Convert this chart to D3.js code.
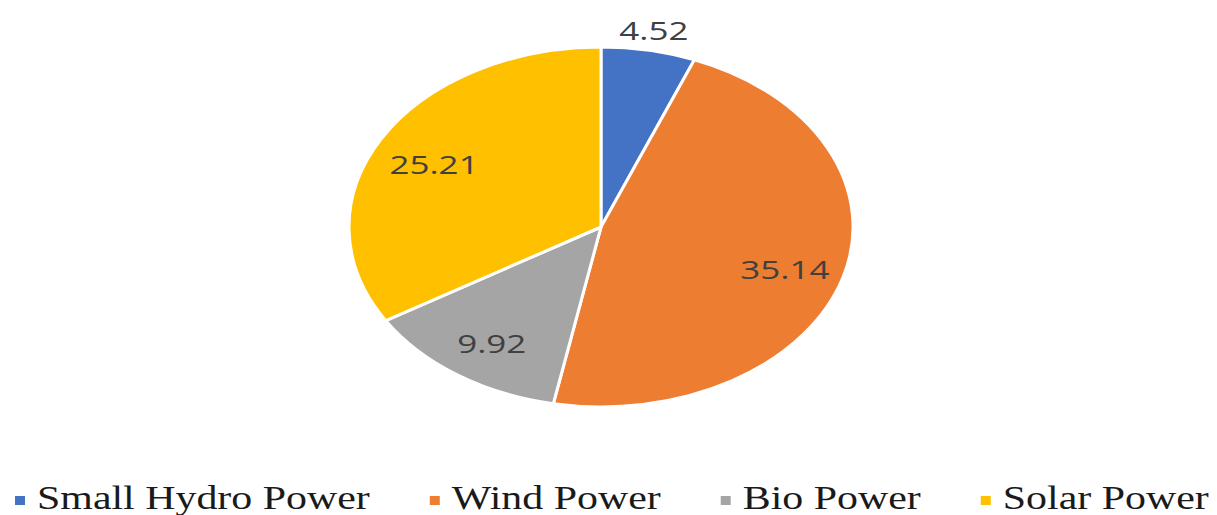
<!DOCTYPE html>
<html>
<head>
<meta charset="utf-8">
<script src="https://cdn.jsdelivr.net/npm/d3@7"></script>
<style>
  html, body { margin: 0; padding: 0; background: #fff; }
  svg { display: block; }
</style>
</head>
<body>
<svg id="chart" width="1217" height="515"></svg>
<script>
// Installed renewable capacity by source
const categories = ["Small Hydro Power", "Wind Power", "Bio Power", "Solar Power"];
const values = [4.52, 35.14, 9.92, 25.21];
const colors = ["#4472C4", "#ED7D31", "#A5A5A5", "#FFC000"];
const labelText = ["4.52", "35.14", "9.92", "25.21"];

const W = 1217, H = 515;
const svg = d3.select("#chart");

const cx = 601, cy = 227;
const R = 180;          // vertical radius
const stretchX = 1.4;   // pie is drawn wider than tall

const data = categories.map((c, i) => ({ name: c, value: values[i], color: colors[i], label: labelText[i] }));

const pie = d3.pie().sort(null).value(d => d.value);
const arcs = pie(data);

const arc = d3.arc().innerRadius(0).outerRadius(R);

const pieG = svg.append("g")
  .attr("transform", `translate(${cx},${cy}) scale(${stretchX},1)`);

pieG.selectAll("path.slice")
  .data(arcs)
  .join("path")
  .attr("class", "slice")
  .attr("d", arc)
  .attr("fill", d => d.data.color)
  .attr("stroke", "#fff")
  .attr("stroke-width", 3)
  .attr("stroke-linejoin", "round")
  .attr("vector-effect", "non-scaling-stroke");

// Data labels: small slice outside, others inside
const insideArc = d3.arc().innerRadius(R * 0.76).outerRadius(R * 0.76);
const outsideArc = d3.arc().innerRadius(R + 20).outerRadius(R + 20);

const labelG = svg.append("g").attr("transform", `translate(${cx},${cy})`);
arcs.forEach(a => {
  const small = (a.endAngle - a.startAngle) < 0.5;
  const [x, y] = (small ? outsideArc : insideArc).centroid(a);
  labelG.append("text")
    .attr("transform", `translate(${x * stretchX},${y + (small ? 0 : 4)}) scale(${stretchX},1)`)
    .attr("text-anchor", "middle")
    .attr("dominant-baseline", "central")
    .attr("font-family", "'Open Sans', 'Noto Sans', sans-serif")
    .attr("font-size", 25)
    .attr("fill", "#404040")
    .text(a.data.label);
});

// Legend
const legendScaleX = 1.27;
const legendY = 509;
const legend = svg.append("g");
let lx = 15;
const gap = 60;
data.forEach(d => {
  const item = legend.append("g").attr("transform", `translate(${lx},0)`);
  item.append("rect")
    .attr("x", 0).attr("y", legendY - 13)
    .attr("width", 10).attr("height", 9)
    .attr("fill", d.color);
  const t = item.append("text")
    .attr("transform", `translate(22,${legendY}) scale(${legendScaleX},1)`)
    .attr("font-family", "'Liberation Serif', 'Times New Roman', Times, serif")
    .attr("font-size", 33)
    .attr("fill", "#1a1a1a")
    .text(d.name);
  const w = t.node().getComputedTextLength() * legendScaleX;
  lx += 22 + w + gap;
});
</script>
</body>
</html>
